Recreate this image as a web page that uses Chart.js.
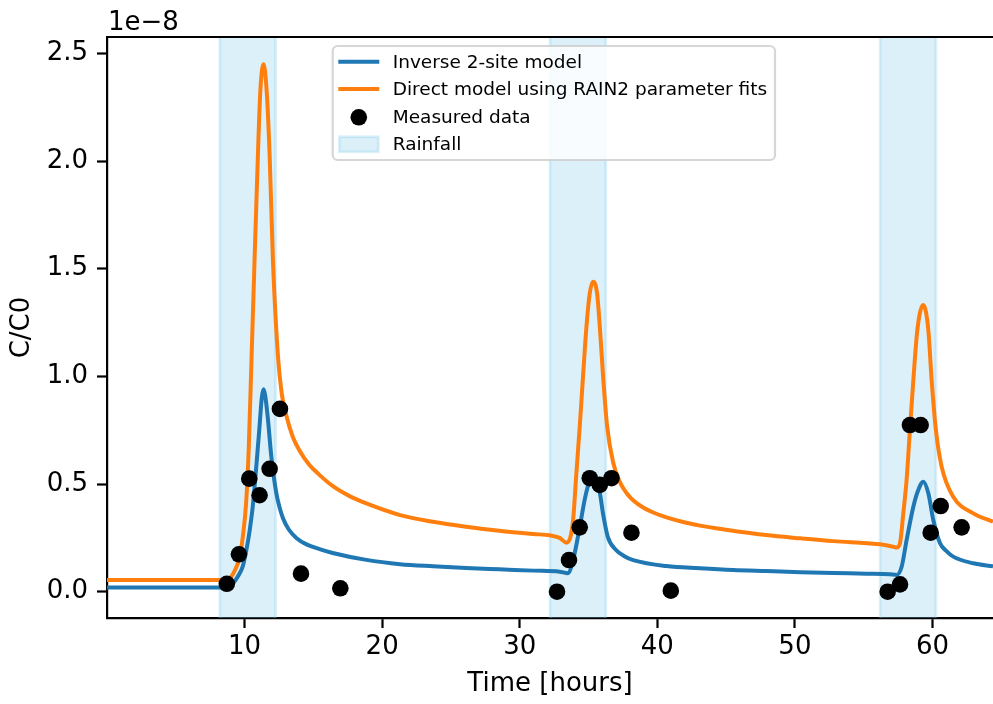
<!DOCTYPE html>
<html>
<head>
<meta charset="utf-8">
<script src="https://cdn.jsdelivr.net/npm/chart.js@4/dist/chart.umd.min.js"></script>
<style>
  html, body { margin: 0; padding: 0; background: #ffffff; }
  #wrap { width: 993px; height: 704px; }
</style>
</head>
<body>
<div id="wrap"><canvas id="chart" width="993" height="704"></canvas></div>
<script>
// Concentration ratio C/C0 (in units of 1e-8) versus time in hours.

// Inverse 2-site model
const inverseTime = [0, 8.2, 8.8, 9.15, 9.5, 9.88, 10.15, 10.36, 10.6, 10.85, 11.09, 11.25, 11.38, 11.5, 11.7, 11.94,
  12.3, 12.55, 12.8, 13.2, 13.76, 14.5, 15.45, 16.4, 18.85, 21.3, 23.7, 26.1, 28.5, 31.0, 32.9, 33.5,
  33.88, 34.36, 34.73, 35.0, 35.15, 35.35, 35.6, 35.82, 36.06, 36.4, 37.0, 37.6, 38.25, 40.67, 43.1,
  45.5, 47.9, 50.4, 52.8, 55.2, 56.9, 57.4, 57.76, 58.12, 58.61, 58.97, 59.33, 59.7, 60.06, 60.55,
  61.0, 61.51, 62.97, 64.4];
const inverseValues = [0.020, 0.020, 0.024, 0.039, 0.07, 0.12, 0.20, 0.28, 0.40, 0.58, 0.77, 0.90, 0.94, 0.91, 0.80, 0.63,
  0.46, 0.39, 0.34, 0.29, 0.25, 0.22, 0.198, 0.18, 0.148, 0.128, 0.118, 0.110, 0.104, 0.098, 0.093, 0.086,
  0.147, 0.30, 0.43, 0.50, 0.52, 0.515, 0.50, 0.46, 0.36, 0.255, 0.194, 0.165, 0.147, 0.119, 0.109,
  0.101, 0.096, 0.091, 0.087, 0.084, 0.081, 0.078, 0.116, 0.24, 0.395, 0.472, 0.511, 0.457, 0.333, 0.225,
  0.19, 0.163, 0.132, 0.118];

// Direct model using RAIN2 parameter fits
const directTime = [0, 8.2, 8.8, 9.03, 9.3, 9.64, 9.9, 10.12, 10.3, 10.5, 10.73, 10.97, 11.15, 11.38, 11.6, 11.82,
  12.06, 12.42, 12.7, 13.03, 13.5, 14.0, 14.7, 15.4, 16.42, 17.6, 18.85, 21.3, 23.7, 26.1, 28.5, 31.0, 32.18,
  32.9, 33.4, 33.69, 33.88, 34.1, 34.36, 34.6, 34.85, 35.09, 35.33, 35.62, 35.82, 36.06, 36.35, 36.79,
  37.27, 37.8, 38.24, 39.0, 39.7, 40.67, 42.1, 43.1, 44.5, 45.5, 47.9, 50.4, 52.8, 55.2, 56.2, 57.15, 57.4,
  57.64, 57.88, 58.12, 58.36, 58.61, 58.9, 59.33, 59.7, 59.94, 60.25, 60.67, 61.51, 62.97, 64.4];
const directValues = [0.054, 0.054, 0.058, 0.07, 0.10, 0.16, 0.27, 0.42, 0.66, 1.07, 1.55, 2.03, 2.33, 2.45, 2.33, 2.03,
  1.54, 1.10, 0.92, 0.82, 0.72, 0.655, 0.59, 0.545, 0.49, 0.445, 0.41, 0.356, 0.325, 0.302, 0.283, 0.268, 0.262,
  0.25, 0.228, 0.255, 0.333, 0.534, 0.766, 0.999, 1.231, 1.386, 1.44, 1.386, 1.231, 0.999, 0.77, 0.60,
  0.51, 0.455, 0.425, 0.39, 0.368, 0.345, 0.32, 0.307, 0.292, 0.283, 0.263, 0.248, 0.235, 0.225, 0.22, 0.209, 0.205,
  0.225, 0.364, 0.519, 0.751, 0.983, 1.215, 1.332, 1.215, 0.983, 0.751, 0.58, 0.441, 0.364, 0.325];

// Measured data
const measuredTime = [8.71, 9.59, 10.34, 11.09, 11.82, 12.57, 14.1, 16.96,
  32.71, 33.58, 34.36, 35.09, 35.82, 36.67, 38.12, 40.98,
  56.74, 57.64, 58.36, 59.14, 59.87, 60.6, 62.12];
const measuredValues = [0.037, 0.174, 0.525, 0.448, 0.571, 0.849, 0.084, 0.016,
  0.0, 0.147, 0.299, 0.527, 0.496, 0.527, 0.274, 0.005,
  0.0, 0.034, 0.774, 0.774, 0.274, 0.398, 0.299];

// Rainfall periods (hours)
const rainStart = [8.2, 32.2, 56.2];
const rainEnd = [12.25, 36.25, 60.25];

// Axes
const xMin = 0;
const xMax = 64.4;
const yMin = -0.122;
const yMax = 2.576;
const xTicks = [10, 20, 30, 40, 50, 60];
const yTicks = [0, 0.5, 1.0, 1.5, 2.0, 2.5];
const yTickLabels = ['0.0', '0.5', '1.0', '1.5', '2.0', '2.5'];
const yOffsetText = '1e\u22128';
const rainLabel = 'Rainfall';

const FONT = 'DejaVu Sans';
const BLUE = '#1f77b4';
const ORANGE = '#ff7f0e';
const SPAN_FILL = 'rgba(135,206,235,0.3)';

const toPoints = (xs, ys) => xs.map((x, i) => ({ x: x, y: ys[i] }));

// Shaded rainfall bands, drawn behind the curves
const rainBands = {
  id: 'rainBands',
  beforeDatasetsDraw(chart) {
    const { ctx, chartArea: a, scales: { x } } = chart;
    ctx.save();
    ctx.beginPath();
    ctx.rect(a.left, a.top, a.right - a.left, a.bottom - a.top);
    ctx.clip();
    rainStart.forEach((s, i) => {
      const x0 = x.getPixelForValue(s);
      const x1 = x.getPixelForValue(rainEnd[i]);
      ctx.fillStyle = SPAN_FILL;
      ctx.fillRect(x0, a.top - 5, x1 - x0, a.bottom - a.top + 10);
      ctx.strokeStyle = SPAN_FILL;
      ctx.lineWidth = 2.8;
      ctx.strokeRect(x0, a.top - 5, x1 - x0, a.bottom - a.top + 10);
    });
    ctx.restore();
  }
};

// Top spine, axis offset text and legend
const frameAndLegend = {
  id: 'frameAndLegend',
  afterDraw(chart) {
    const { ctx, chartArea: a } = chart;
    ctx.save();
    ctx.strokeStyle = '#000';
    ctx.lineWidth = 2.2;
    ctx.beginPath();
    ctx.moveTo(a.left - 1, a.top);
    ctx.lineTo(a.right + 2, a.top);
    ctx.stroke();

    ctx.fillStyle = '#000';
    ctx.font = '26px "' + FONT + '"';
    ctx.textAlign = 'left';
    ctx.textBaseline = 'alphabetic';
    ctx.fillText(yOffsetText, a.left + 1, a.top - 7.5);

    // legend
    const bx = a.left + 225.7, by = a.top + 9, bw = 442.3, bh = 114;
    ctx.beginPath();
    ctx.roundRect(bx, by, bw, bh, 5);
    ctx.fillStyle = 'rgba(255,255,255,0.8)';
    ctx.fill();
    ctx.lineWidth = 2.2;
    ctx.strokeStyle = 'rgba(204,204,204,0.8)';
    ctx.stroke();

    const hx0 = bx + 5.6, hx1 = bx + 46.6, tx = bx + 60;
    const rows = [by + 15.7, by + 43, by + 71.3, by + 98.3];
    const ds = chart.data.datasets;
    const entries = [ds[2], ds[1], ds[0]];
    ctx.font = '18.5px "' + FONT + '"';
    ctx.textBaseline = 'middle';
    entries.forEach((d, i) => {
      const y = rows[i];
      if (d.showLine) {
        ctx.strokeStyle = d.borderColor;
        ctx.lineWidth = 4;
        ctx.beginPath();
        ctx.moveTo(hx0, y);
        ctx.lineTo(hx1, y);
        ctx.stroke();
      } else {
        ctx.fillStyle = d.backgroundColor;
        ctx.beginPath();
        ctx.arc((hx0 + hx1) / 2, y, d.pointRadius, 0, Math.PI * 2);
        ctx.fill();
      }
      ctx.fillStyle = '#000';
      ctx.fillText(d.label, tx, y + 1);
    });
    const py = rows[3];
    ctx.fillStyle = SPAN_FILL;
    ctx.fillRect(hx0 + 1, py - 7.5, hx1 - hx0 - 2, 15);
    ctx.strokeStyle = SPAN_FILL;
    ctx.lineWidth = 2.8;
    ctx.strokeRect(hx0 + 1, py - 7.5, hx1 - hx0 - 2, 15);
    ctx.fillStyle = '#000';
    ctx.fillText(rainLabel, tx, py + 1);
    ctx.restore();
  }
};

new Chart(document.getElementById('chart'), {
  type: 'scatter',
  data: {
    datasets: [
      {
        label: 'Measured data',
        data: toPoints(measuredTime, measuredValues),
        showLine: false,
        pointRadius: 8.3,
        pointHoverRadius: 8.3,
        pointBorderWidth: 0,
        backgroundColor: '#000',
        borderColor: '#000',
        order: 0
      },
      {
        label: 'Direct model using RAIN2 parameter fits',
        data: toPoints(directTime, directValues),
        showLine: true,
        borderColor: ORANGE,
        backgroundColor: ORANGE,
        borderWidth: 4,
        pointRadius: 0,
        cubicInterpolationMode: 'monotone',
        order: 1
      },
      {
        label: 'Inverse 2-site model',
        data: toPoints(inverseTime, inverseValues),
        showLine: true,
        borderColor: BLUE,
        backgroundColor: BLUE,
        borderWidth: 4,
        pointRadius: 0,
        cubicInterpolationMode: 'monotone',
        order: 2
      }
    ]
  },
  options: {
    responsive: false,
    animation: false,
    devicePixelRatio: 1,
    layout: { autoPadding: false, padding: { top: 37, right: 0, left: 0, bottom: 0 } },
    plugins: { legend: { display: false }, tooltip: { enabled: false } },
    scales: {
      x: {
        type: 'linear',
        min: xMin,
        max: xMax,
        afterBuildTicks: (s) => { s.ticks = xTicks.map(v => ({ value: v })); },
        afterFit: (s) => { s.height = 86; s.paddingLeft = 0; s.paddingRight = 0; },
        grid: { display: true, drawOnChartArea: false, drawTicks: true, tickLength: 10, tickWidth: 2.2, tickColor: '#000' },
        border: { display: true, color: '#000', width: 2.2 },
        ticks: { color: '#000', padding: 4, maxRotation: 0, autoSkip: false, font: { family: FONT, size: 26 } },
        title: { display: true, text: 'Time [hours]', color: '#000', font: { family: FONT, size: 26 }, padding: { top: 0, bottom: 4.4 } }
      },
      y: {
        type: 'linear',
        min: yMin,
        max: yMax,
        afterBuildTicks: (s) => { s.ticks = yTicks.map(v => ({ value: v })); },
        afterFit: (s) => { s.width = 107; s.paddingTop = 0; s.paddingBottom = 0; },
        grid: { display: true, drawOnChartArea: false, drawTicks: true, tickLength: 10, tickWidth: 2.2, tickColor: '#000' },
        border: { display: true, color: '#000', width: 2.2 },
        ticks: {
          color: '#000', padding: 9, autoSkip: false, font: { family: FONT, size: 26 },
          callback: (v) => { const i = yTicks.indexOf(v); return i >= 0 ? yTickLabels[i] : ''; }
        },
        title: { display: true, text: 'C/C0', color: '#000', font: { family: FONT, size: 26 }, padding: { top: 7, bottom: 0 } }
      }
    }
  },
  plugins: [rainBands, frameAndLegend]
});
</script>
</body>
</html>
